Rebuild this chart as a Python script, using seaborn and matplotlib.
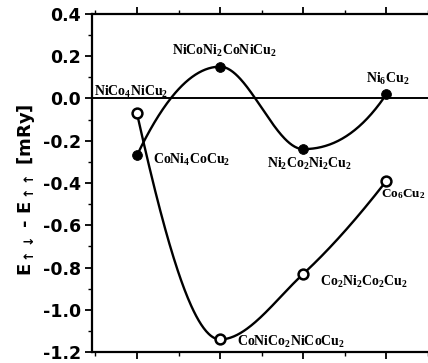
import numpy as np
import pandas as pd
import matplotlib
matplotlib.use("Agg")
import matplotlib.pyplot as plt
import seaborn as sns
from matplotlib.ticker import MultipleLocator

sns.set_theme(style="ticks")
plt.rcParams['font.family'] = ['DejaVu Sans']
plt.rcParams['text.color'] = 'black'
plt.rcParams['axes.labelcolor'] = 'black'
plt.rcParams['xtick.color'] = 'black'
plt.rcParams['ytick.color'] = 'black'
plt.rcParams['mathtext.fontset'] = 'custom'
plt.rcParams['mathtext.rm'] = 'Liberation Serif:bold'
plt.rcParams['mathtext.bf'] = 'Liberation Serif:bold'
plt.rcParams['mathtext.it'] = 'Liberation Serif:bold'
plt.rcParams['mathtext.sf'] = 'DejaVu Sans:bold'

# Data
positions = [1, 2, 3, 4]
ni_labels = [r'$\mathrm{CoNi_4CoCu_2}$', r'$\mathrm{NiCoNi_2CoNiCu_2}$', r'$\mathrm{Ni_2Co_2Ni_2Cu_2}$', r'$\mathrm{Ni_6Cu_2}$']
ni_values = [-0.27, 0.15, -0.24, 0.02]
co_labels = [r'$\mathrm{NiCo_4NiCu_2}$', r'$\mathrm{CoNiCo_2NiCoCu_2}$', r'$\mathrm{Co_2Ni_2Co_2Cu_2}$', r'$\mathrm{Co_6Cu_2}$']
co_values = [-0.07, -1.14, -0.83, -0.39]


def pchip(x, y, xs):
    x = np.asarray(x, float); y = np.asarray(y, float)
    h = np.diff(x); d = np.diff(y) / h
    n = len(x); m = np.zeros(n)
    for k in range(1, n - 1):
        if d[k - 1] * d[k] > 0:
            w1 = 2 * h[k] + h[k - 1]; w2 = h[k] + 2 * h[k - 1]
            m[k] = (w1 + w2) / (w1 / d[k - 1] + w2 / d[k])
    def end(h0, h1, d0, d1):
        mm = ((2 * h0 + h1) * d0 - h0 * d1) / (h0 + h1)
        if np.sign(mm) != np.sign(d0):
            mm = 0
        elif np.sign(d0) != np.sign(d1) and abs(mm) > abs(3 * d0):
            mm = 3 * d0
        return mm
    m[0] = end(h[0], h[1], d[0], d[1])
    m[-1] = end(h[-1], h[-2], d[-1], d[-2])
    out = np.empty_like(xs)
    for i, xv in enumerate(xs):
        k = min(np.searchsorted(x, xv, side='right') - 1, n - 2)
        k = max(k, 0)
        t = (xv - x[k]) / h[k]
        h00 = 2 * t**3 - 3 * t**2 + 1; h10 = t**3 - 2 * t**2 + t
        h01 = -2 * t**3 + 3 * t**2; h11 = t**3 - t**2
        out[i] = h00 * y[k] + h10 * h[k] * m[k] + h01 * y[k + 1] + h11 * h[k] * m[k + 1]
    return out

xs = np.linspace(1, 4, 300)
curve = pd.DataFrame({'x': np.concatenate([xs, xs]),
                      'y': np.concatenate([pchip(positions, ni_values, xs), pchip(positions, co_values, xs)]),
                      's': ['ni'] * len(xs) + ['co'] * len(xs)})
pts = pd.DataFrame({'x': positions * 2, 'y': ni_values + co_values, 's': ['ni'] * 4 + ['co'] * 4})

fig = plt.figure(figsize=(4.28, 3.63), dpi=100)
ax = fig.add_axes([0.215, 0.030, 0.785, 0.932])

sns.lineplot(data=curve, x='x', y='y', units='s', estimator=None, color='black', lw=1.7, ax=ax, sort=False)
ax.axhline(0, color='black', lw=1.4)
sns.scatterplot(data=pts[pts.s == 'co'], x='x', y='y', ax=ax, s=50, facecolor='white', edgecolor='black', linewidth=1.8, zorder=5)
sns.scatterplot(data=pts[pts.s == 'ni'], x='x', y='y', ax=ax, s=50, color='black', edgecolor='black', zorder=5)

ax.set_xlim(0.46, 4.5)
ax.set_ylim(-1.2, 0.4)
ax.yaxis.set_major_locator(MultipleLocator(0.2))
ax.yaxis.set_minor_locator(MultipleLocator(0.1))
ax.xaxis.set_major_locator(MultipleLocator(1))
ax.xaxis.set_minor_locator(MultipleLocator(0.5))
ax.set_yticklabels([f'{v:.1f}' for v in ax.get_yticks()])
ax.tick_params(axis='y', which='both', direction='out', labelsize=12.5, pad=3, right=False, colors='black')
ax.tick_params(axis='y', which='major', length=5, width=1.3)
ax.tick_params(axis='y', which='minor', length=3, width=1)
ax.tick_params(axis='x', which='both', direction='out', top=True, labelbottom=False, colors='black')
ax.tick_params(axis='x', which='major', length=5, width=1.3)
ax.tick_params(axis='x', which='minor', length=3, width=1)
for lab in ax.get_yticklabels():
    lab.set_fontweight('bold')
ax.spines['right'].set_visible(False)
for sp in ['left', 'top', 'bottom']:
    ax.spines[sp].set_linewidth(1.6)
    ax.spines[sp].set_color('black')
ax.set_xlabel('')
ax.set_ylabel(r'$\mathsf{E_{\uparrow\downarrow}}$ - $\mathsf{E_{\uparrow\uparrow}}$ [mRy]', fontsize=13, fontweight='bold', color='black')
ax.yaxis.set_label_coords(-0.165, 0.48)

fs = 10
ax.text(0.48, 0.03, co_labels[0], fontsize=fs, ha='left', va='center')
ax.text(1.19, -0.29, ni_labels[0], fontsize=fs, ha='left', va='center')
ax.text(1.42, 0.225, ni_labels[1], fontsize=fs, ha='left', va='center')
ax.text(2.57, -0.31, ni_labels[2], fontsize=fs, ha='left', va='center')
ax.text(3.75, 0.09, ni_labels[3], fontsize=fs, ha='left', va='center')
ax.text(3.93, -0.455, co_labels[3], fontsize=9.5, ha='left', va='center')
ax.text(3.2, -0.87, co_labels[2], fontsize=fs, ha='left', va='center')
ax.text(2.2, -1.15, co_labels[1], fontsize=fs, ha='left', va='center')

fig.savefig('out.png', dpi=100)
